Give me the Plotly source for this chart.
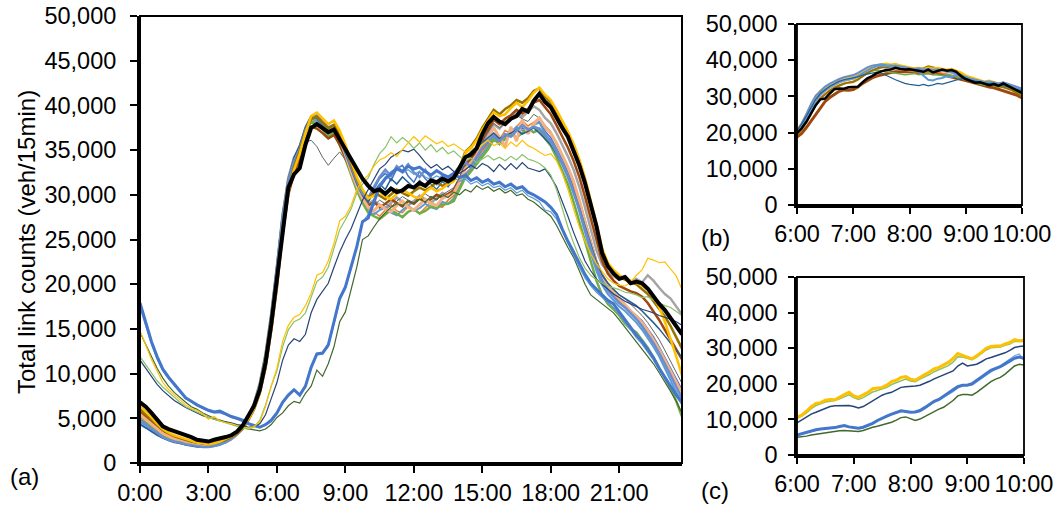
import plotly.graph_objects as go

# ---------------- time bases and tick labels ----------------
HOURS_A = [i * 0.25 for i in range(96)]            # 15-min samples, 0:00 .. 23:45
HOURS_BC = [6 + i * 5 / 60 for i in range(49)]     # 5-min samples, 6:00 .. 10:00
TICKS_A_VALS = [0, 3, 6, 9, 12, 15, 18, 21]
TICKS_A_TEXT = ["0:00", "3:00", "6:00", "9:00", "12:00", "15:00", "18:00", "21:00"]
TICKS_BC_VALS = [6, 7, 8, 9, 10]
TICKS_BC_TEXT = ["6:00", "7:00", "8:00", "9:00", "10:00"]
Y_TICKS_A = [0, 5000, 10000, 15000, 20000, 25000, 30000, 35000, 40000, 45000, 50000]
Y_TICKS_BC = [0, 10000, 20000, 30000, 40000, 50000]

# ---------------- panel (a): values in thousand veh/15min ----------------
AVG = [6.8,6.3,5.6,4.8,4.1,3.8,3.6,3.3, 3.1,2.9,2.6,2.5,2.4,2.6,2.7,2.9,
       3.1,3.5,4.2,5.3,6.4,8.2,11.2,15.5, 20.6,26.5,30.8,32.3,33.0,35.6,37.5,37.9,
       37.4,37.0,37.3,36.2,35.3,34.0,33.0,31.8, 31.0,30.4,30.6,30.1,30.7,30.3,30.5,31.0,
       30.8,31.3,31.0,31.6,31.4,31.8,31.5,31.9, 33.0,34.2,34.5,35.2,36.8,38.0,38.7,38.2,
       37.9,38.5,38.8,39.6,39.3,40.5,41.3,40.4, 39.8,38.6,37.5,36.5,35.0,33.3,31.3,28.8,
       26.5,23.5,22.0,21.2,20.6,20.8,20.1,20.3, 20.1,19.5,18.6,17.8,17.1,16.2,15.4,14.4]

WD1 = [4.4,4.0,3.5,3.1,2.8,2.6,2.5,2.3, 2.2,2.1,2.0,1.9,1.9,2.0,2.1,2.3,
       2.6,3.1,3.8,5.0,6.5,8.6,11.8,16.2, 21.5,27.2,31.4,33.6,34.8,36.9,38.6,38.9,
       38.2,37.6,37.9,36.4,34.8,33.0,31.6,30.2, 29.4,30.6,31.8,32.4,31.6,32.9,33.3,32.1,
       31.4,32.6,31.8,31.2,30.6,31.5,30.9,31.8, 32.6,33.4,33.0,34.1,35.0,35.8,36.4,35.6,
       36.2,36.9,36.4,37.5,37.0,37.8,38.2,37.1, 36.4,35.2,34.0,32.6,30.8,29.0,27.1,24.8,
       22.6,20.8,19.4,18.6,18.0,17.6,17.1,16.5, 15.9,15.0,14.1,13.0,11.8,10.6,9.4,8.2]
WD2 = [6.1,5.5,4.8,4.1,3.6,3.2,2.9,2.7, 2.5,2.3,2.2,2.1,2.0,2.1,2.3,2.5,
       2.8,3.3,4.0,5.1,6.6,8.8,12.0,16.5, 21.8,27.6,31.8,33.9,35.2,37.1,38.3,38.0,
       37.4,36.6,37.0,35.8,34.2,32.4,30.8,29.4, 28.4,28.1,27.6,28.3,28.9,28.2,28.0,28.7,
       28.4,27.9,28.5,29.2,28.8,28.6,29.4,29.9, 31.1,32.4,33.0,33.8,34.9,35.6,36.8,36.2,
       37.2,36.8,37.6,38.3,37.7,38.1,38.6,37.4, 36.8,35.7,34.4,33.0,31.2,29.1,26.6,24.3,
       22.2,20.6,19.6,18.9,18.1,17.7,16.9,16.2, 15.4,14.6,13.5,12.4,11.3,10.0,8.9,7.6]
WD3 = [5.6,5.1,4.6,4.0,3.5,3.2,3.0,2.8, 2.6,2.4,2.3,2.2,2.1,2.2,2.4,2.6,
       2.9,3.4,4.1,5.2,6.7,8.9,12.1,16.4, 21.6,27.4,31.9,34.2,35.1,37.2,38.4,38.2,
       37.6,36.9,37.4,36.1,34.6,32.9,31.3,29.9, 29.0,29.4,28.8,28.5,29.1,29.7,29.2,28.8,
       29.3,29.9,29.5,29.1,29.6,30.2,29.9,30.6, 31.6,33.1,33.8,34.6,35.9,36.8,37.9,37.4,
       38.1,38.6,39.2,38.7,39.3,39.9,39.5,38.6, 38.0,36.9,35.6,34.3,32.8,30.9,28.6,26.1,
       23.8,22.2,21.4,20.9,20.5,20.9,20.3,20.6, 20.2,21.0,20.4,19.6,18.9,18.4,17.5,16.6]
WD4 = [6.4,5.8,5.1,4.4,3.8,3.4,3.1,2.9, 2.7,2.5,2.3,2.2,2.1,2.2,2.4,2.7,
       3.0,3.4,4.0,4.9,6.1,7.9,10.8,15.0, 20.1,26.0,30.4,32.8,34.6,36.9,38.8,39.2,
       38.6,37.9,38.3,37.2,35.6,33.8,32.0,30.6, 29.6,29.9,30.4,29.8,29.5,30.1,30.6,30.2,
       29.8,29.6,30.3,30.8,30.4,30.7,31.2,31.5, 32.8,34.6,35.2,36.1,37.3,38.3,39.2,38.8,
       39.0,39.7,40.3,39.8,40.5,41.4,42.0,41.2, 40.6,39.5,38.3,37.1,35.7,34.0,31.9,29.5,
       26.8,24.0,22.4,21.6,21.0,20.6,20.4,20.2, 19.8,19.4,18.6,17.4,15.8,13.9,11.9,9.8]
WD5 = [4.6,4.2,3.7,3.2,2.9,2.6,2.4,2.2, 2.1,2.0,1.9,1.8,1.8,1.9,2.0,2.3,
       2.7,3.2,3.9,5.0,6.6,8.8,12.1,16.6, 21.9,27.7,31.6,33.9,35.4,37.4,38.6,38.3,
       37.5,36.8,37.2,36.0,34.3,32.3,30.6,29.2, 28.1,27.8,28.3,28.6,28.0,27.7,28.3,28.8,
       28.2,28.5,29.0,28.6,28.4,29.2,29.0,29.6, 30.9,32.2,32.9,33.7,34.6,35.4,36.5,36.0,
       36.6,37.0,37.6,37.2,37.0,37.8,38.1,36.8, 36.1,35.0,33.7,32.2,30.4,28.2,25.8,23.5,
       21.5,19.9,18.9,18.2,17.5,17.0,16.4,15.7, 14.9,14.0,13.0,11.9,10.6,9.3,7.9,6.6]
WD6 = [5.0,4.5,4.0,3.5,3.1,2.8,2.6,2.4, 2.3,2.1,2.0,1.9,1.9,2.0,2.2,2.4,
       2.8,3.3,4.0,5.1,6.7,8.9,12.2,16.7, 22.0,27.8,31.8,33.6,35.1,37.0,38.2,37.9,
       37.3,36.5,36.9,35.6,34.0,32.2,30.5,29.1, 28.0,27.6,27.3,27.8,28.3,27.9,27.5,28.1,
       28.4,27.9,28.2,28.7,28.5,28.9,29.0,29.3, 30.6,31.9,32.6,33.4,34.3,35.1,36.2,35.7,
       36.3,36.8,36.4,36.9,37.4,37.0,37.3,36.3, 35.5,34.2,32.8,31.2,29.2,27.0,24.6,22.4,
       20.4,18.8,17.8,17.2,16.5,15.6,15.0,14.6, 13.8,12.9,11.8,10.7,9.5,8.3,6.9,5.2]
WD7 = [5.8,5.2,4.6,4.0,3.5,3.1,2.9,2.7, 2.5,2.3,2.2,2.1,2.0,2.1,2.3,2.5,
       2.8,3.2,3.8,4.8,6.0,7.8,10.6,14.8, 19.6,25.6,30.0,32.4,34.0,36.2,37.6,37.4,
       36.9,36.3,36.7,35.6,34.2,32.6,31.0,29.7, 28.8,29.2,28.6,29.0,29.5,29.1,28.7,29.3,
       29.0,29.6,29.2,29.5,30.0,29.7,30.1,30.5, 31.7,33.3,34.0,34.9,36.1,37.2,38.4,37.9,
       38.5,38.9,39.5,39.1,39.6,40.3,40.6,39.8, 39.0,37.8,36.6,35.3,33.8,32.0,29.8,27.3,
       24.8,22.6,21.2,20.4,19.8,19.5,19.2,19.0, 18.6,17.9,17.0,16.0,14.9,13.8,12.8,11.6]
WD8 = [5.2,4.7,4.2,3.7,3.3,3.0,2.8,2.6, 2.4,2.2,2.1,2.0,2.0,2.1,2.3,2.5,
       2.8,3.3,4.0,5.1,6.6,8.7,11.9,16.3, 21.4,27.0,31.2,33.5,34.6,35.9,36.1,35.4,
       34.2,33.3,34.1,34.8,33.9,32.6,31.0,29.8, 29.0,28.8,29.4,29.0,28.6,29.3,29.8,29.4,
       29.1,29.5,30.1,29.7,29.4,30.0,30.4,30.8, 32.0,33.5,34.3,35.1,36.2,37.0,38.0,37.5,
       38.0,38.4,38.9,38.5,38.2,39.0,38.6,37.8, 37.1,35.9,34.6,33.2,31.6,29.6,27.3,24.9,
       22.8,21.2,20.2,19.5,18.8,18.4,17.8,17.2, 16.5,15.7,14.8,13.8,12.6,11.4,10.1,8.9]
WD9 = [6.0,5.4,4.8,4.2,3.7,3.3,3.0,2.8, 2.6,2.4,2.3,2.2,2.1,2.2,2.4,2.6,
       2.9,3.3,3.9,4.9,6.2,8.0,11.0,15.2, 20.3,26.2,30.6,33.1,34.9,37.0,38.5,38.7,
       38.1,37.4,37.8,36.7,35.2,33.4,31.8,30.5, 29.7,30.2,29.9,29.5,30.1,30.6,30.2,29.9,
       30.4,30.8,30.5,30.9,31.4,31.0,31.3,31.8, 33.0,34.8,35.4,36.3,37.5,38.5,39.5,39.0,
       39.6,40.0,40.6,40.3,40.8,41.6,41.9,41.0, 40.3,39.2,38.0,36.8,35.3,33.6,31.5,29.0,
       26.4,23.8,22.2,21.4,20.8,20.5,20.2,20.0, 19.5,18.9,18.1,17.3,16.4,15.3,14.1,12.8]
WD10 = [5.4,4.9,4.3,3.8,3.3,3.0,2.7,2.5, 2.3,2.1,2.0,1.9,1.9,2.0,2.2,2.4,
        2.7,3.2,3.9,5.0,6.5,8.7,11.9,16.4, 21.7,27.5,31.7,34.0,35.3,37.4,38.7,38.6,
        38.0,37.2,37.6,36.3,34.5,32.6,31.0,29.6, 28.6,28.2,28.9,28.4,28.1,28.8,29.3,28.6,
        28.3,28.9,29.5,29.0,28.8,29.6,29.9,30.2, 31.4,32.9,33.6,34.4,35.6,36.3,37.5,36.4,
        35.4,37.6,36.0,38.4,36.8,37.9,38.6,37.6, 36.9,35.8,34.5,33.1,31.5,29.4,27.0,24.6,
        22.4,20.8,19.8,19.1,18.4,17.6,17.0,16.4, 15.7,14.8,13.8,12.7,11.5,10.3,9.1,7.8]
WD11 = [4.3,3.9,3.5,3.1,2.8,2.5,2.3,2.2, 2.0,1.9,1.8,1.8,1.8,1.9,2.1,2.4,
        2.8,3.3,4.0,5.1,6.7,8.9,12.2,16.7, 22.0,27.9,31.9,34.2,35.6,37.6,38.8,38.5,
        37.8,37.0,37.4,36.2,34.6,32.8,31.2,29.9, 29.2,30.3,31.2,30.6,31.8,31.2,32.0,31.4,
        30.8,31.6,31.0,31.9,31.3,32.1,31.6,32.4, 33.3,34.2,34.8,35.3,35.9,36.4,36.9,36.3,
        36.6,36.9,37.3,36.8,37.1,37.5,36.9,36.2, 35.6,34.6,33.4,32.0,30.4,28.6,26.5,24.4,
        22.5,21.0,20.1,19.4,18.8,18.4,18.0,17.6, 17.0,16.4,15.7,15.0,14.2,13.4,12.6,11.8]
WD12 = [4.8,4.3,3.8,3.3,2.9,2.6,2.4,2.3, 2.1,2.0,1.9,1.8,1.8,1.9,2.1,2.3,
        2.7,3.2,3.9,5.0,6.5,8.7,11.9,16.4, 21.7,27.5,31.6,33.8,35.1,37.2,38.5,38.7,
        38.0,37.3,37.7,36.5,34.9,33.2,31.5,30.1, 29.6,30.9,32.0,32.8,32.1,33.2,32.6,33.4,
        32.5,32.0,32.8,31.9,31.2,32.2,31.6,32.3, 32.9,33.6,33.2,34.3,35.3,36.0,36.6,35.9,
        36.8,36.5,37.2,37.8,37.3,37.6,37.4,36.6, 35.9,34.8,33.5,32.0,30.3,28.4,26.2,24.0,
        22.0,20.4,19.3,18.6,17.9,17.4,16.8,16.1, 15.3,14.4,13.4,12.3,11.1,9.8,8.5,7.2]

WE1 = [14.8,13.2,11.6,10.3,9.0,8.2,7.6,7.0, 6.5,6.1,5.9,5.5,4.9,5.2,4.7,4.5,
       4.4,4.2,4.0,3.9,4.1,4.6,6.3,8.6, 10.6,13.6,15.4,16.3,16.6,17.6,19.0,21.0,
       21.3,22.6,24.6,27.1,27.6,28.8,30.6,31.6, 32.2,33.2,33.9,34.2,34.7,34.3,35.1,35.8,
       36.5,35.9,36.6,36.1,35.7,36.0,35.4,35.7, 35.2,34.8,35.4,34.9,35.6,36.1,35.5,35.8,
       35.2,35.9,35.4,36.1,35.5,35.2,34.8,34.4, 34.6,33.8,32.4,30.6,28.4,26.4,24.8,23.4,
       22.3,21.5,20.6,20.1,19.9,19.8,20.2,21.0, 21.6,22.9,22.7,22.4,22.5,21.7,20.9,19.4]
WE2 = [11.9,11.0,10.0,9.2,8.5,7.9,7.3,6.8, 6.3,6.0,5.7,5.4,5.1,4.9,4.7,4.5,
       4.3,4.1,3.9,3.8,4.0,4.8,6.5,8.6, 10.3,13.0,14.9,15.8,16.1,16.8,18.5,20.3,
       20.8,21.9,24.0,26.1,27.2,28.4,30.2,31.2, 31.9,33.4,34.6,35.3,36.5,35.8,36.4,35.9,
       35.2,35.8,35.0,35.6,34.8,35.3,34.6,34.9, 34.3,33.8,34.1,33.6,34.0,34.4,33.9,34.2,
       33.8,34.3,33.9,34.5,34.0,33.8,33.5,33.0, 32.2,30.6,28.5,26.4,24.6,23.0,21.8,21.0,
       20.5,20.1,19.8,19.6,19.4,19.1,19.0,18.8, 18.5,18.6,18.2,17.9,17.6,17.4,17.0,16.5]
WE3 = [11.5,10.6,9.6,8.8,8.1,7.5,7.0,6.6, 6.2,5.9,5.6,5.3,5.1,4.9,4.7,4.6,
       4.5,4.3,4.2,4.0,4.1,4.4,5.4,7.2, 9.0,11.5,13.2,13.9,13.6,14.4,16.8,18.3,
       19.2,20.1,21.9,23.6,25.0,26.2,27.8,29.4, 30.6,31.8,32.9,33.4,34.2,34.6,35.0,34.8,
       35.1,34.4,33.6,33.0,33.4,32.8,33.2,32.6, 32.4,32.8,33.3,32.9,33.5,33.2,32.6,33.4,
       32.8,33.5,32.9,33.6,33.0,32.8,32.6,32.9, 32.0,30.9,29.3,27.6,25.8,24.1,22.6,21.5,
       20.6,20.0,19.4,18.9,18.5,18.1,17.8,17.5, 17.2,17.0,16.8,16.5,16.3,16.1,15.8,15.4]
WE4 = [17.9,15.8,13.6,11.9,10.5,9.6,8.8,8.0, 7.3,6.9,6.5,6.2,5.9,5.7,5.8,5.5,
       5.2,5.0,4.8,4.4,4.2,4.0,4.3,4.8, 5.6,6.8,7.6,8.2,7.6,8.6,10.7,12.2,
       12.3,13.2,15.8,18.4,19.7,22.0,24.2,27.0, 27.4,29.2,30.9,31.8,32.4,32.9,32.6,33.2,
       32.9,33.1,32.6,32.2,32.7,32.3,32.0,32.4, 31.9,32.2,31.6,31.9,31.4,31.7,31.2,31.4,
       30.9,31.2,30.7,30.9,30.3,30.0,29.6,29.2, 28.6,27.8,26.2,24.8,23.6,22.3,21.1,20.1,
       19.4,18.8,18.2,17.8,16.9,16.0,15.1,14.3, 13.6,12.7,11.8,10.6,9.6,8.6,7.6,6.8]
WE5 = [17.4,15.3,13.3,11.6,10.3,9.4,8.6,7.9, 7.2,6.8,6.4,6.1,5.8,5.6,5.6,5.4,
       5.1,4.9,4.6,4.3,4.1,4.0,4.2,4.6, 5.5,6.7,7.5,8.1,7.7,8.5,10.6,12.1,
       12.2,13.0,15.5,18.2,19.5,21.8,24.1,26.9, 27.8,29.5,31.2,32.0,32.6,33.0,32.4,32.8,
       32.3,32.6,32.0,31.7,32.1,31.8,31.4,31.9, 31.5,31.8,31.2,31.5,31.0,31.3,30.8,31.0,
       30.5,30.8,30.2,30.5,29.9,29.6,29.2,28.3, 28.1,27.3,25.9,24.5,23.2,21.9,20.7,19.8,
       19.1,18.5,17.9,17.4,16.6,15.8,14.9,14.0, 13.3,12.4,11.5,10.4,9.4,8.4,7.4,6.5]
WE6 = [14.6,13.3,11.9,10.6,9.5,8.6,7.9,7.3, 6.8,6.3,6.0,5.6,5.3,5.0,4.8,4.6,
       4.4,4.2,4.0,3.8,3.7,3.6,3.8,4.3, 5.1,5.6,6.4,6.9,6.7,7.8,8.6,10.4,
       9.7,11.1,13.0,15.8,16.9,19.3,21.9,25.0, 25.4,26.4,27.3,28.0,28.6,29.0,28.8,29.3,
       29.0,29.5,29.2,29.8,29.5,30.0,29.7,30.3, 30.0,30.6,30.3,31.0,30.6,30.9,30.4,30.7,
       30.2,30.5,29.9,30.1,29.5,29.2,28.7,28.2, 27.6,26.6,25.3,24.1,23.0,21.5,20.0,18.8,
       18.3,17.7,17.3,16.8,16.0,15.2,14.4,13.6, 12.8,12.0,11.1,10.1,9.1,8.0,6.9,5.6]

# ---------------- panel (b): weekdays 6:00-10:00, thousand veh ----------------
AVG_B = [19.9,21.2,23.0,25.2,27.6,29.2,29.4,30.8,32.0,32.2,32.1,32.5,
         32.6,32.7,33.9,35.0,35.6,36.4,36.9,37.3,37.4,37.9,37.6,37.4,
         37.5,37.2,37.1,36.8,37.4,36.6,37.0,37.4,37.1,37.3,36.8,35.6,
         34.8,34.4,33.8,33.9,33.5,33.1,33.4,32.9,33.6,33.0,32.4,31.6,30.9]
B1 = [20.6,22.4,24.6,27.0,29.2,30.8,31.9,32.8,33.5,34.2,34.6,34.8,
      35.0,35.4,35.9,36.2,36.5,36.7,36.4,35.9,35.2,34.6,34.0,33.6,
      33.3,33.1,33.0,33.3,32.9,33.2,33.6,33.4,33.8,34.2,34.6,34.9,
      34.7,34.5,34.2,34.0,33.8,33.5,33.7,33.2,33.0,32.6,32.2,31.8,31.5]
B2 = [20.2,22.0,24.3,26.8,29.0,30.6,31.8,32.7,33.5,34.1,34.5,34.7,
      35.1,35.6,36.4,37.2,37.9,38.3,38.5,38.4,38.6,38.3,38.1,37.9,
      37.6,37.4,36.8,35.6,34.6,34.4,34.9,35.1,35.6,35.3,35.9,35.7,
      35.2,34.8,34.5,34.1,33.8,34.0,33.6,33.4,33.1,32.8,32.4,32.0,31.8]
B3 = [18.8,19.8,21.4,23.2,25.2,27.0,28.6,29.7,30.6,31.4,31.8,31.7,
      31.9,32.6,33.6,34.4,35.1,35.6,36.0,36.4,36.6,36.8,36.7,36.8,
      36.9,36.7,36.6,36.4,36.5,36.2,36.3,36.0,35.8,35.5,35.2,34.8,
      34.4,34.0,33.6,33.3,33.0,32.6,32.4,32.0,31.6,31.2,30.8,30.3,29.6]
B4 = [20.8,22.6,25.0,27.8,30.0,31.6,32.6,33.3,34.0,34.6,35.0,35.3,
      35.6,36.2,37.0,37.8,38.4,38.7,38.9,39.1,38.8,39.0,38.6,38.3,
      38.1,37.8,37.9,37.6,38.0,37.7,37.9,37.6,37.4,37.6,37.1,36.6,
      35.8,35.4,34.9,34.6,34.1,34.4,33.9,33.6,33.8,33.2,32.7,32.1,30.6]
B5 = [19.6,21.0,23.1,25.6,27.8,29.6,30.8,31.7,32.5,33.2,33.6,33.9,
      34.2,34.8,35.6,36.4,37.1,37.6,37.9,38.1,37.9,37.7,37.5,37.2,
      37.0,36.8,36.9,36.6,36.8,36.5,36.7,36.4,36.2,36.0,35.6,35.1,
      34.6,34.3,33.9,33.7,33.4,33.6,33.2,33.0,32.7,32.4,31.9,31.3,30.4]
B6 = [20.0,21.8,24.0,26.4,28.6,30.4,31.6,32.5,33.3,33.9,34.3,34.6,
      35.0,35.6,36.5,37.4,38.0,38.5,38.7,38.4,38.2,38.4,38.0,37.8,
      37.5,37.3,37.4,37.1,37.5,37.2,37.4,37.0,36.8,36.6,36.1,35.6,
      35.1,34.6,34.4,34.1,33.9,34.2,33.7,33.5,33.6,33.0,32.5,31.9,31.2]
B7 = [19.4,20.8,22.9,25.3,27.6,29.4,30.6,31.6,32.4,33.0,33.5,33.8,
      34.0,34.6,35.6,36.5,37.2,37.8,38.2,38.0,38.4,38.1,37.9,37.6,
      37.8,37.5,37.6,37.8,38.3,37.9,37.7,37.4,37.2,37.0,36.7,36.2,
      35.5,34.9,34.5,34.2,33.8,33.5,33.2,32.8,32.5,32.1,31.6,30.8,30.0]
B8 = [20.3,22.2,24.6,27.2,29.4,31.0,32.1,32.8,33.4,33.9,34.4,34.6,
      34.8,35.4,36.0,36.6,37.0,37.3,37.1,36.8,36.6,36.4,36.2,36.0,
      36.1,36.3,36.0,36.2,36.4,36.1,36.0,35.8,36.1,35.7,35.4,35.0,
      34.4,34.0,33.6,33.4,33.1,33.3,32.9,32.6,32.8,32.3,31.9,31.4,30.8]
B9 = [20.4,22.5,25.1,27.9,30.2,31.6,32.7,33.5,34.2,34.8,35.3,35.6,
      35.9,36.5,37.3,38.0,38.5,38.8,38.9,38.6,38.3,38.5,38.2,38.0,
      37.8,37.6,37.8,37.4,37.6,37.3,37.5,37.2,37.0,36.8,36.3,35.8,
      35.3,34.9,34.6,34.2,34.0,34.1,33.8,33.6,33.9,33.4,33.0,32.6,32.2]

# ---------------- panel (c): weekends 6:00-10:00, thousand veh ----------------
C1 = [10.6,11.2,12.3,13.6,14.5,14.7,15.4,15.6,15.5,16.3,17.0,17.6,
      16.6,16.2,16.8,17.6,18.6,18.9,19.0,19.6,20.6,21.0,21.8,22.0,
      21.3,21.0,21.9,22.6,23.3,24.2,24.6,25.2,26.0,27.1,28.5,28.0,
      27.6,27.0,27.9,28.8,30.0,30.5,30.6,30.6,31.2,31.6,32.4,32.1,32.2]
C2 = [10.3,10.9,11.8,13.0,13.9,14.4,14.9,15.1,15.3,15.8,16.4,16.9,
      16.1,15.6,16.1,16.8,17.7,18.1,18.5,19.0,19.8,20.3,21.0,21.3,
      20.8,20.6,21.3,21.9,22.6,23.4,24.0,24.5,25.1,26.1,27.6,27.5,
      27.2,26.8,27.5,28.4,29.5,30.1,30.2,30.3,30.8,31.2,31.9,31.8,31.9]
C3 = [9.0,9.9,10.8,11.5,12.0,12.5,13.2,13.6,13.8,13.9,14.0,13.9,
      13.6,13.2,13.6,14.4,15.3,16.0,16.8,17.3,17.6,18.3,19.0,19.2,
      19.2,19.4,19.6,20.1,20.7,21.4,21.9,22.4,23.1,23.6,25.0,25.8,
      25.0,25.2,25.5,26.2,27.0,27.4,27.8,28.3,28.7,29.4,30.2,30.5,30.6]
C4 = [5.6,6.0,6.4,6.8,7.1,7.3,7.4,7.6,7.7,8.0,8.3,7.9,
      7.6,7.5,7.8,8.3,8.9,9.7,10.4,10.9,11.5,12.0,12.4,12.2,
      12.0,12.1,12.5,13.3,14.3,15.1,15.6,16.4,17.4,18.3,19.2,19.6,
      19.6,20.0,21.0,21.9,22.8,23.8,24.3,24.8,25.6,26.5,27.2,27.5,27.2]
C5 = [5.5,5.9,6.3,6.7,7.0,7.3,7.5,7.6,7.8,8.0,8.1,7.9,
      7.6,7.4,7.7,8.2,8.8,9.5,10.2,10.8,11.3,11.8,12.2,12.3,
      12.1,12.0,12.2,12.9,13.9,14.8,15.4,16.1,17.0,17.8,18.8,19.4,
      19.8,19.6,20.5,21.5,22.4,23.3,24.2,25.0,26.0,26.8,27.9,28.4,26.5]
C6 = [5.0,5.1,5.3,5.6,5.8,6.0,6.3,6.6,6.7,6.8,6.9,6.8,
      6.7,6.6,6.9,7.4,7.8,8.1,8.4,8.7,9.2,9.8,10.5,10.7,
      10.1,9.7,10.1,10.8,11.6,12.3,12.9,13.4,14.3,15.3,16.6,17.0,
      17.0,16.8,17.6,18.6,19.7,20.6,21.3,21.8,22.7,23.8,25.0,25.5,25.3]

# ---------------- styling ----------------
W, H = 1058, 508
FONT = "Liberation Sans, Arial, sans-serif"
FS = 23.5

WEEKDAY_A = [(WD1, "#4472C4", 1.5), (WD2, "#ED7D31", 1.5), (WD3, "#A5A5A5", 2.5),
             (WD5, "#5B9BD5", 2), (WD6, "#70AD47", 2.5), (WD7, "#9E480E", 2.5),
             (WD8, "#636363", 1), (WD10, "#F4B183", 3), (WD11, "#255E91", 1.5),
             (WD12, "#698ED0", 2.5), (WD9, "#997300", 2.5), (WD4, "#FFC000", 2.5)]
WEEKEND_A = [(WE6, "#43682B", 1.2), (WE5, "#5B9BD5", 1.2), (WE4, "#4477CC", 3),
             (WE3, "#264478", 1.2), (WE2, "#8CC168", 1.2), (WE1, "#FFC000", 1.2)]
WEEKDAY_B = [(B3, "#9E480E", 3), (B5, "#ED7D31", 1.5), (B8, "#70AD47", 1.5),
             (B6, "#A5A5A5", 2.5), (B7, "#997300", 2), (B4, "#FFC000", 2),
             (B9, "#698ED0", 2), (B2, "#5B9BD5", 2), (B1, "#255E91", 1.2)]
WEEKEND_C = [(C6, "#43682B", 1.5), (C5, "#6FA8DC", 1.2), (C4, "#4477CC", 3),
             (C3, "#264478", 1.5), (C2, "#8CC168", 1.5), (C1, "#FFC000", 3)]


def k(vals):
    return [v * 1000 for v in vals]


fig = go.Figure()
for vals, col, lw in WEEKDAY_A + WEEKEND_A:
    fig.add_trace(go.Scatter(x=HOURS_A, y=k(vals), mode="lines",
                             line=dict(color=col, width=lw), xaxis="x", yaxis="y"))
fig.add_trace(go.Scatter(x=HOURS_A, y=k(AVG), mode="lines",
                         line=dict(color="#000000", width=4), xaxis="x", yaxis="y"))

for vals, col, lw in WEEKDAY_B:
    fig.add_trace(go.Scatter(x=HOURS_BC, y=k(vals), mode="lines",
                             line=dict(color=col, width=lw), xaxis="x2", yaxis="y2"))
fig.add_trace(go.Scatter(x=HOURS_BC, y=k(AVG_B), mode="lines",
                         line=dict(color="#000000", width=2.5), xaxis="x2", yaxis="y2"))

for vals, col, lw in WEEKEND_C:
    fig.add_trace(go.Scatter(x=HOURS_BC, y=k(vals), mode="lines",
                             line=dict(color=col, width=lw), xaxis="x3", yaxis="y3"))


def px_dom(a, b, total, flip=False):
    if flip:
        return [1 - b / total, 1 - a / total]
    return [a / total, b / total]


axis_common = dict(showgrid=False, zeroline=False, showline=True, linecolor="black",
                   ticks="outside", tickcolor="black", tickwidth=1.5, automargin=False,
                   tickfont=dict(family=FONT, size=FS, color="black"))

fig.update_layout(
    width=W, height=H, margin=dict(l=0, r=0, t=0, b=0, autoexpand=False),
    paper_bgcolor="white", plot_bgcolor="white", showlegend=False, hovermode=False,
    xaxis=dict(axis_common, domain=px_dom(140, 682, W), range=[0, 23.75], anchor="y",
               tickvals=TICKS_A_VALS, ticktext=TICKS_A_TEXT, ticklen=7, linewidth=3),
    yaxis=dict(axis_common, domain=px_dom(16, 463, H, True), range=[0, 50000], anchor="x",
               tickvals=Y_TICKS_A, tickformat=",d", ticklen=7, linewidth=3,
               ticklabelstandoff=9),
    xaxis2=dict(axis_common, domain=px_dom(797, 1022, W), range=[6, 10], anchor="y2",
                tickvals=TICKS_BC_VALS, ticktext=TICKS_BC_TEXT, ticklen=6, linewidth=2.5),
    yaxis2=dict(axis_common, domain=px_dom(24, 205, H, True), range=[0, 50000], anchor="x2",
                tickvals=Y_TICKS_BC, tickformat=",d", ticklen=6, linewidth=2.5,
                ticklabelstandoff=6),
    xaxis3=dict(axis_common, domain=px_dom(797, 1024, W), range=[6, 10], anchor="y3",
                tickvals=TICKS_BC_VALS, ticktext=TICKS_BC_TEXT, ticklen=6, linewidth=2.5),
    yaxis3=dict(axis_common, domain=px_dom(277, 455, H, True), range=[0, 50000], anchor="x3",
                tickvals=Y_TICKS_BC, tickformat=",d", ticklen=6, linewidth=2.5,
                ticklabelstandoff=6),
)

for xr, yr, lw in [("x domain", "y domain", 2), ("x2 domain", "y2 domain", 1.8),
                   ("x3 domain", "y3 domain", 1.8)]:
    fig.add_shape(type="rect", xref=xr, yref=yr, x0=0, x1=1, y0=0, y1=1,
                  line=dict(color="black", width=lw), fillcolor="rgba(0,0,0,0)", layer="above")

ann_font = dict(family=FONT, size=24, color="black")
fig.add_annotation(text="Total link counts (veh/15min)", xref="paper", yref="paper",
                   x=26 / W, y=1 - 242 / H, textangle=-90, showarrow=False, font=ann_font,
                   xanchor="center", yanchor="middle")
for label, cx, cy in [("(a)", 24, 476), ("(b)", 715, 237), ("(c)", 715, 490)]:
    fig.add_annotation(text=label, xref="paper", yref="paper", x=cx / W, y=1 - cy / H,
                       showarrow=False, font=ann_font, xanchor="center", yanchor="middle")

fig.write_html("out.html")
